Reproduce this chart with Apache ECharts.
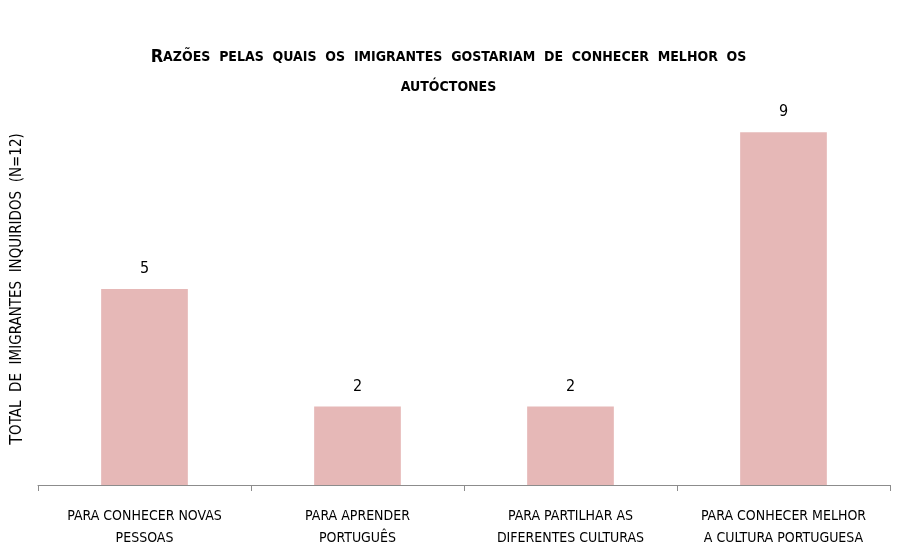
<!DOCTYPE html>
<html>
<head>
<meta charset="utf-8">
<script src="https://cdn.jsdelivr.net/npm/echarts@6/dist/echarts.min.js"></script>
<style>
  html, body { margin: 0; padding: 0; background: #fff; }
  #chart { width: 897px; height: 549px; }
</style>
</head>
<body>
<div id="chart"></div>
<script>
const categories = [
  'PARA CONHECER NOVAS\nPESSOAS',
  'PARA APRENDER\nPORTUGUÊS',
  'PARA PARTILHAR AS\nDIFERENTES CULTURAS',
  'PARA CONHECER MELHOR\nA CULTURA PORTUGUESA'
]
const values = [5, 2, 2, 9]

const FONT = '"Liberation Sans Narrow", "DejaVu Sans Condensed", "Noto Sans", sans-serif'

const chart = echarts.init(document.getElementById('chart'))
chart.setOption({
  animation: false,
  textStyle: { fontFamily: FONT },
  title: {
    left: 'center',
    top: 37,
    text: '{b|R}{s|AZÕES  PELAS  QUAIS  OS  IMIGRANTES  GOSTARIAM  DE  CONHECER  MELHOR  OS}\n{s|AUTÓCTONES}',
    textStyle: {
      lineHeight: 30,
      rich: {
        b: { fontSize: 18, fontWeight: 'bold', color: '#000', fontFamily: FONT, lineHeight: 30 },
        s: { fontSize: 14, fontWeight: 'bold', color: '#000', fontFamily: FONT, lineHeight: 30 }
      }
    }
  },
  grid: { left: 36, right: 7, top: 93, bottom: 64 },
  xAxis: {
    type: 'category',
    data: categories,
    axisLine: { lineStyle: { color: '#8c8c8c' } },
    axisTick: { show: true, length: 6, lineStyle: { color: '#8c8c8c' } },
    axisLabel: {
      interval: 0,
      margin: 20,
      color: '#000',
      fontSize: 14,
      lineHeight: 22,
      fontFamily: FONT
    }
  },
  yAxis: {
    type: 'value',
    min: 0,
    max: 10,
    axisLine: { show: false },
    axisTick: { show: false },
    axisLabel: { show: false },
    splitLine: { show: false },
    name: '{b|T}{s|OTAL  DE  IMIGRANTES  INQUIRIDOS  (N=12)}',
    nameLocation: 'middle',
    nameGap: 12,
    nameRotate: 90,
    nameTextStyle: {
      rich: {
        b: { fontSize: 18, color: '#000', fontFamily: FONT },
        s: { fontSize: 15, color: '#000', fontFamily: FONT }
      }
    }
  },
  series: [{
    type: 'bar',
    data: values,
    barWidth: '40.7%',
    itemStyle: { color: '#e6b8b7' },
    label: {
      show: true,
      position: 'top',
      distance: 12,
      color: '#000',
      fontSize: 16,
      fontFamily: FONT
    }
  }]
})
</script>
</body>
</html>
